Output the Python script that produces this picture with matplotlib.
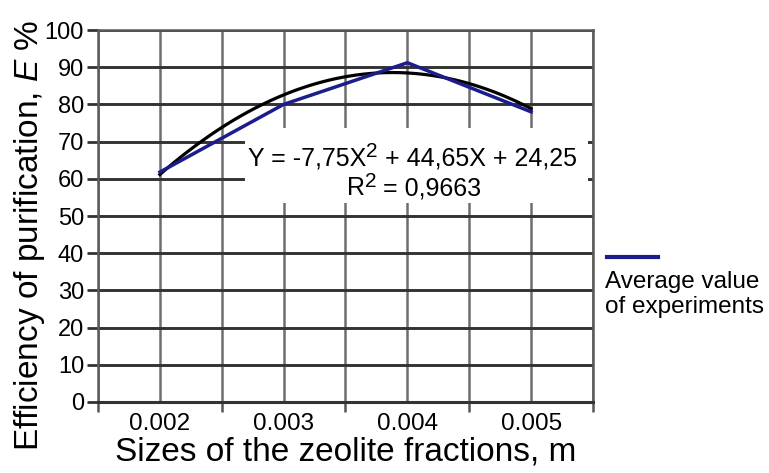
import numpy as np
import matplotlib
matplotlib.use("Agg")
import matplotlib.pyplot as plt
from matplotlib.lines import Line2D
from matplotlib.patches import Rectangle

plt.rcParams['font.family'] = ['Liberation Sans', 'DejaVu Sans']
plt.rcParams['mathtext.fontset'] = 'custom'
plt.rcParams['mathtext.rm'] = 'Liberation Sans'
plt.rcParams['mathtext.it'] = 'Liberation Sans:italic'

# data
sizes = ['0.002', '0.003', '0.004', '0.005']
efficiency = [61.8, 80.0, 91.2, 78.0]
# trend line coefficients as printed on the chart (X = 1..4)
trend_coef = [-7.75, 44.65, 24.25]
eq_parts = ['Y = -7,75X', '2', ' + 44,65X + 24,25']
r2_parts = ['R', '2', ' = 0,9663']

navy = '#1c1c8c'

fig = plt.figure(figsize=(7.69, 4.73), dpi=100)
ax = fig.add_axes([98/769, 1-402/473, 495/769, 372/473])

pos = np.arange(1, len(sizes)+1)
xs = np.linspace(pos[0], pos[-1], 100)
ax.plot(xs, np.polyval(trend_coef, xs), color='black', lw=2.3, zorder=3)
ax.plot(pos, efficiency, color=navy, lw=2.5, zorder=4)

ax.set_xlim(0.5, len(sizes)+0.5)
ax.set_ylim(0, 100)

# category boundaries as major ticks, labels on the centers
ax.set_xticks(np.arange(0.5, len(sizes)+1, 1.0))
ax.set_xticklabels([])
ax.set_xticks(pos, minor=True)
ax.set_xticklabels(sizes, minor=True, fontsize=17.5)
ax.tick_params(axis='x', which='major', length=7, width=1.8, color='#555555')
ax.tick_params(axis='x', which='minor', length=0, pad=8)
ax.set_yticks(np.arange(0, 101, 10))
ax.tick_params(axis='y', length=8, width=2, color='#333333', labelsize=17, pad=2)

ax.grid(axis='x', which='both', color='#6e6e6e', lw=1.8, zorder=1)
ax.grid(axis='y', color='#333333', lw=2.1, zorder=1)
ax.set_axisbelow(True)
for s in ax.spines.values():
    s.set_color('#5a5a5a')
    s.set_linewidth(1.8)
ax.spines['bottom'].set_color('#333333')
ax.spines['bottom'].set_linewidth(2.2)

# white box with the trend equation
ax.add_patch(Rectangle((0.297, 0.535), 0.693, 0.202, transform=ax.transAxes,
                       facecolor='white', edgecolor='none', zorder=2))


def sup_text(parts, x0, base, sup_base):
    t1 = ax.text(x0, base, parts[0], transform=ax.transAxes,
                 ha='left', va='baseline', fontsize=18, zorder=5)
    t2 = ax.annotate(parts[1], xy=(1, sup_base), xycoords=(t1, ax.transAxes),
                     ha='left', va='baseline', fontsize=15, zorder=5)
    ax.annotate(parts[2], xy=(1, base), xycoords=(t2, ax.transAxes),
                ha='left', va='baseline', fontsize=18, zorder=5)


sup_text(eq_parts, 0.303, 0.637, 0.659)
sup_text(r2_parts, 0.503, 0.556, 0.578)

# legend drawn by hand: line above the text
fig.add_artist(Line2D([607/769, 658/769], [1-257/473, 1-257/473], color=navy, lw=3))
fig.text(605/769, 1-282/473, 'Average value', ha='left', va='center', fontsize=17.5)
fig.text(605/769, 1-307/473, 'of experiments', ha='left', va='center', fontsize=17.5)

fig.text(346/769, 1-452/473, 'Sizes of the zeolite fractions, m',
         ha='center', va='center', fontsize=24)
fig.text(30/769, 1-235/473, 'Efficiency of purification, $\\it{E}$ %',
         ha='center', va='center', rotation=90, fontsize=24)

fig.savefig('out.png', dpi=100)
